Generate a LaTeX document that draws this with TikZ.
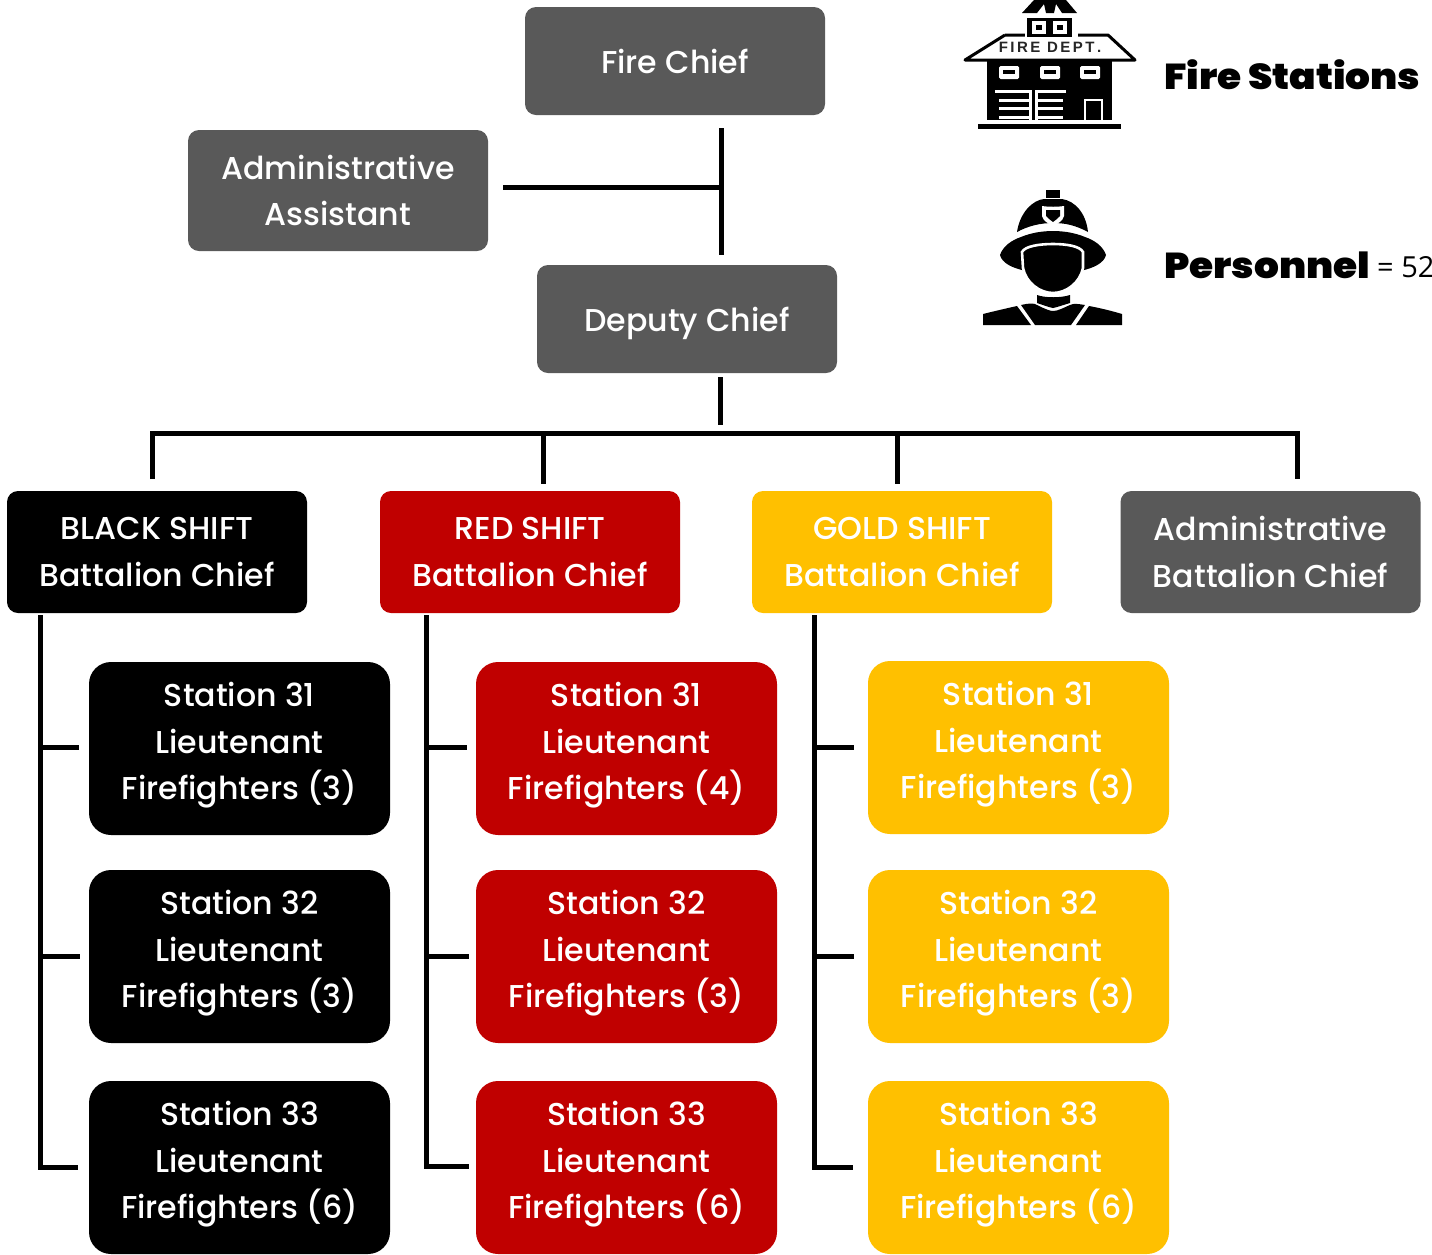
\documentclass[tikz,border=0pt]{standalone}
\usepackage{fontspec}
\setmainfont{Poppins Medium}
\newfontfamily\heavyfont[FakeStretch=1.085]{Poppins Black}
\newfontfamily\plainfont{Open Sans}
\newfontfamily\signfont{Liberation Sans}
\definecolor{grayb}{HTML}{595959}
\definecolor{redb}{HTML}{C00000}
\definecolor{goldb}{HTML}{FFC000}
\tikzset{
 boxbase/.style={rectangle,inner sep=0pt,text=white,align=center,font=\fontsize{31.6}{46.5}\selectfont},
 small/.style={boxbase,text depth=-1pt,rounded corners=11pt,minimum width=300pt},
 large/.style={boxbase,text depth=14.5pt,rounded corners=22pt,minimum width=301pt,minimum height=173pt},
 link/.style={line width=5pt,black},
 ink/.style={fill=black,draw=none},
 paper/.style={fill=white,draw=none}
}
\newcommand{\smallbox}[6]{\node[small,fill=#5,minimum height=#4 pt] (#1) at (#2,#3) {#6};}
\newcommand{\largebox}[5]{\node[large,fill=#4] (#1) at (#2,#3) {#5};}
\begin{document}
\begin{tikzpicture}[x=1pt,y=-1pt]
\useasboundingbox (0,0) rectangle (1432,1254);
\begin{scope}
\clip (0,0) rectangle (1432,1254);
% boxes
\smallbox{chief}{675}{61}{108}{grayb}{Fire Chief}
\smallbox{assist}{338}{190.5}{121}{grayb}{Administrative\\Assistant}
\smallbox{deputy}{687}{319}{108}{grayb}{Deputy Chief}
\smallbox{blackbc}{157}{552}{122}{black}{BLACK SHIFT\\Battalion Chief}
\smallbox{redbc}{530}{552}{122}{redb}{RED SHIFT\\Battalion Chief}
\smallbox{goldbc}{902}{552}{122}{goldb}{GOLD SHIFT\\Battalion Chief}
\smallbox{adminbc}{1270.5}{552}{122}{grayb}{Administrative\\Battalion Chief}
\largebox{ba}{239.5}{748.5}{black}{Station 31\\Lieutenant\\Firefighters (3)}
\largebox{bb}{239.5}{956.5}{black}{Station 32\\Lieutenant\\Firefighters (3)}
\largebox{bc}{239.5}{1167.5}{black}{Station 33\\Lieutenant\\Firefighters (6)}
\largebox{ra}{626.5}{748.5}{redb}{Station 31\\Lieutenant\\Firefighters (4)}
\largebox{rb}{626.5}{956.5}{redb}{Station 32\\Lieutenant\\Firefighters (3)}
\largebox{rc}{626.5}{1167.5}{redb}{Station 33\\Lieutenant\\Firefighters (6)}
\largebox{ga}{1018.5}{747.5}{goldb}{Station 31\\Lieutenant\\Firefighters (3)}
\largebox{gb}{1018.5}{956.5}{goldb}{Station 32\\Lieutenant\\Firefighters (3)}
\largebox{gc}{1018.5}{1167.5}{goldb}{Station 33\\Lieutenant\\Firefighters (6)}
% connector ends
\coordinate (c1) at (721,128); \coordinate (c2) at (721,255);
\coordinate (c3) at (503,187); \coordinate (c4) at (721,187);
\coordinate (d1) at (720,377); \coordinate (d2) at (720,425);
\coordinate (b1) at (152,479); \coordinate (b2) at (152,433);
\coordinate (b3) at (1297,433); \coordinate (b4) at (1297,479);
\coordinate (b5) at (543,433); \coordinate (b6) at (543,484);
\coordinate (b7) at (897,433); \coordinate (b8) at (897,484);
\draw[link] (c1) -- (c2);
\draw[link] (c3) -- (c4);
\draw[link] (d1) -- (d2);
\draw[link] (b1) -- (b2) -- (b3) -- (b4);
\draw[link] (b5) -- (b6);
\draw[link] (b7) -- (b8);
% shift spines
\coordinate (s1) at (40,615); \coordinate (s2) at (40,1167); \coordinate (s3) at (78,1167);
\coordinate (s4) at (40,747); \coordinate (s5) at (79,747);
\coordinate (s6) at (40,956); \coordinate (s7) at (80,956);
\draw[link] (s1) -- (s2) -- (s3);
\draw[link] (s4) -- (s5);
\draw[link] (s6) -- (s7);
\coordinate (t1) at (426,615); \coordinate (t2) at (426,1166); \coordinate (t3) at (469,1166);
\coordinate (t4) at (426,747); \coordinate (t5) at (467,747);
\coordinate (t6) at (426,956); \coordinate (t7) at (469,956);
\draw[link] (t1) -- (t2) -- (t3);
\draw[link] (t4) -- (t5);
\draw[link] (t6) -- (t7);
\coordinate (u1) at (814,615); \coordinate (u2) at (814,1167); \coordinate (u3) at (853,1167);
\coordinate (u4) at (814,747); \coordinate (u5) at (854,747);
\coordinate (u6) at (814,956); \coordinate (u7) at (854,956);
\draw[link] (u1) -- (u2) -- (u3);
\draw[link] (u4) -- (u5);
\draw[link] (u6) -- (u7);
% legend text
\node[anchor=west,inner sep=0pt,font=\heavyfont\fontsize{36}{38}\selectfont] (stations) at (1164,75) {Fire Stations};
\node[anchor=west,inner sep=0pt,font=\heavyfont\fontsize{36}{38}\selectfont] (personnel) at (1164,265) {Personnel};
\node[anchor=west,inner sep=0pt,font=\plainfont\fontsize{29}{30}\selectfont] (count) at (1377,267) {= 52};
% fire station icon
\path[ink] (978,124) rectangle (1121,129);
\path[ink] (987,61) rectangle (1112,120);
\draw[black,line width=3pt,line join=round,fill=white] (1005,35) -- (965,60) -- (1135,60) -- (1108,35) -- (1005,35);
\path[paper] (1025,30) rectangle (1078,40);
\path[ink] (1027,18) rectangle (1072,37);
\path[paper] (1032,21) rectangle (1046,34);
\path[paper] (1053,21) rectangle (1067,34);
\path[ink] (1036,25) rectangle (1042,30);
\path[ink] (1057,25) rectangle (1063,30);
\path[ink] (1022,13) -- (1034,0) -- (1066,0) -- (1077,13) -- (1062,13) -- (1056,4) -- (1054,13) -- (1046,13) -- (1044,4) -- (1037,13) -- cycle;
\node[inner sep=0pt,font=\signfont\bfseries\fontsize{15}{16}\selectfont,text=black!85] (dept) at (1050,47.5) {F\,I\,R\,E\ \,D\,E\,P\,T\,.};
\foreach \wx in {1009,1050,1090}{
 \path[paper,rounded corners=1.5pt] (\wx-10,66) rectangle (\wx+10,79);
 \path[ink] (\wx-6,70) rectangle (\wx+6,74);
}
% garage doors
\path[paper] (995,90) rectangle (1032,93);
\path[paper] (1029,90) rectangle (1032,120);
\foreach \gy in {99,107,116}{\path[paper] (999,\gy) rectangle (1029,\gy+3);}
\path[paper] (1035,90) rectangle (1038,120);
\path[paper] (1035,90) rectangle (1066,93);
\foreach \gy in {99,107,116}{\path[paper] (1038,\gy) rectangle (1063,\gy+3);}
\draw[white,line width=2.6pt] (1085,120) -- (1085,100) -- (1102,100) -- (1102,120);
% firefighter icon
\path[ink] (1046,190) rectangle (1060,198);
\path[ink] (1017,232) .. controls (1020,212) and (1033,200) .. (1044,199) -- (1062,199) .. controls (1075,201) and (1086,213) .. (1088,232) .. controls (1075,225) and (1065,223) .. (1053,223) .. controls (1040,223) and (1028,226) .. (1017,232) -- cycle;
\path[paper] (1042,206) .. controls (1048,207) and (1058,207) .. (1064,206) -- (1064,216) .. controls (1063,221) and (1057,224) .. (1053,226) .. controls (1049,224) and (1043,221) .. (1042,216) -- cycle;
\path[ink] (1046,210) -- (1060,210) -- (1060,216) .. controls (1058,218) and (1056,220) .. (1053,222) .. controls (1050,220) and (1048,218) .. (1046,216) -- cycle;
\path[ink] (1000,255) .. controls (1003,246) and (1012,240) .. (1021,237) .. controls (1040,229) and (1066,229) .. (1085,237) .. controls (1094,240) and (1103,246) .. (1106,255) .. controls (1104,263) and (1094,268) .. (1080,271) -- (1026,271) .. controls (1012,268) and (1002,263) .. (1000,255) -- cycle;
\draw[white,line width=2.6pt,fill=black] (1022,252) .. controls (1025,246) and (1040,244) .. (1053,244) .. controls (1066,244) and (1080,246) .. (1083,252) -- (1083,268) .. controls (1080,283) and (1066,293) .. (1053,293) .. controls (1040,293) and (1026,283) .. (1023,268) -- cycle;
\path[ink] (1037,295) .. controls (1045,298) and (1061,298) .. (1070,295) -- (1070,303) .. controls (1063,305) and (1058,307) .. (1053,308) .. controls (1048,307) and (1043,305) .. (1037,303) -- cycle;
\path[ink] (983,314) .. controls (995,311) and (1008,308) .. (1017,306) -- (1031,325) -- (983,325) -- cycle;
\path[ink] (1021,305) .. controls (1030,303) and (1034,303) .. (1037,305) .. controls (1045,309) and (1050,311) .. (1053,311) .. controls (1058,311) and (1063,308) .. (1070,305) .. controls (1074,303) and (1078,304) .. (1085,305) -- (1071,325) -- (1035,325) -- cycle;
\path[ink] (1089,306) .. controls (1100,308) and (1112,311) .. (1122,314) -- (1122,325) -- (1076,325) -- cycle;
\end{scope}
\end{tikzpicture}
\end{document}
